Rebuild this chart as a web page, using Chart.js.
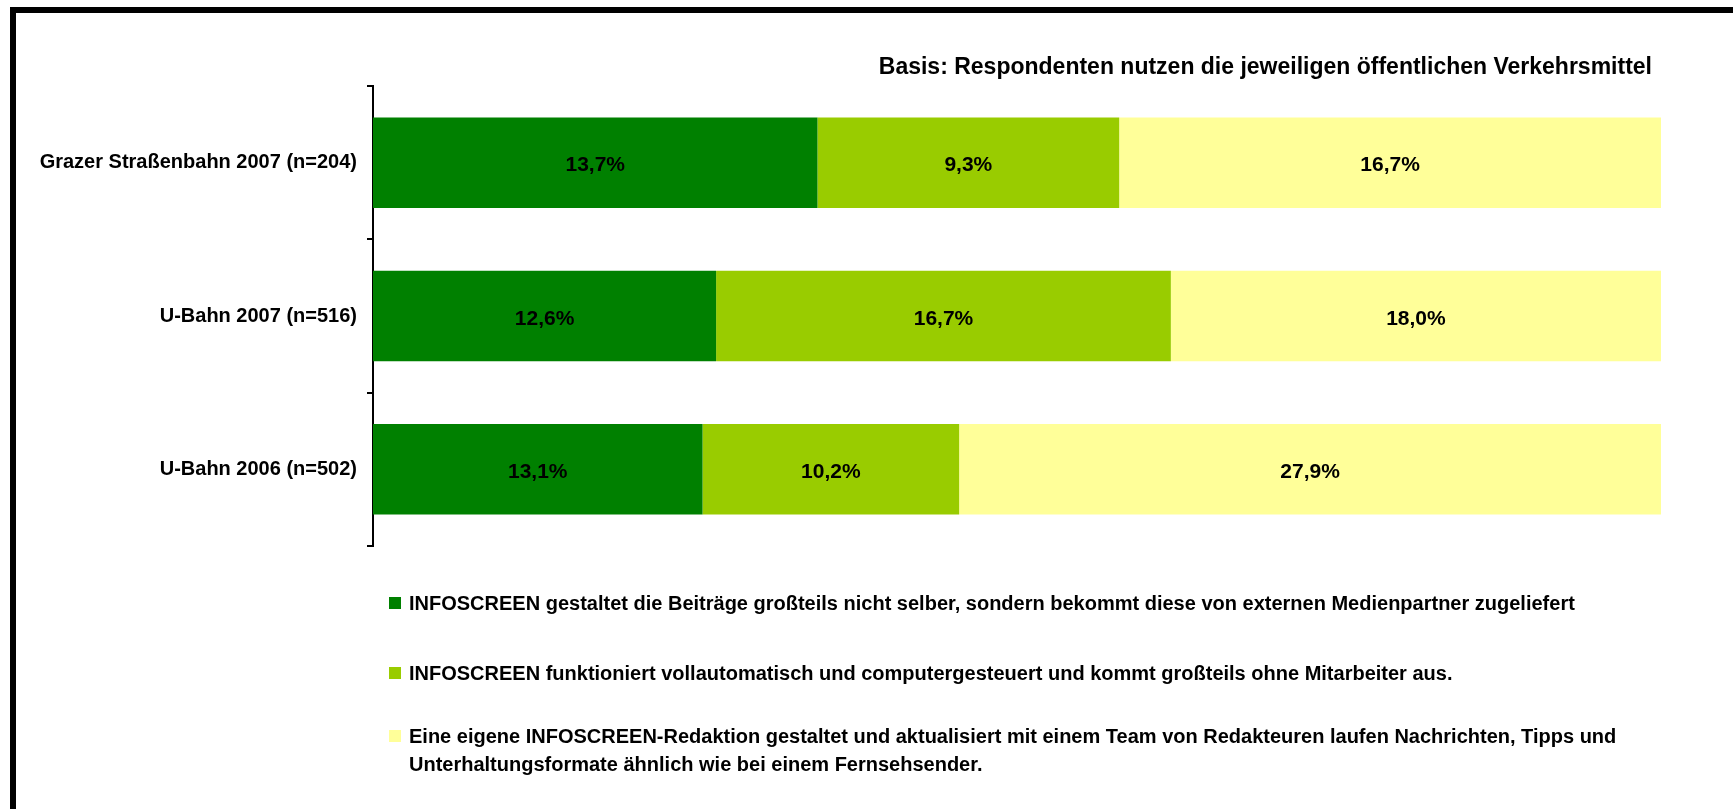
<!DOCTYPE html>
<html>
<head>
<meta charset="utf-8">
<script src="https://cdn.jsdelivr.net/npm/chart.js@4.4.1/dist/chart.umd.min.js"></script>
<style>
  html, body { margin: 0; padding: 0; background: #fff; }
  #wrap { position: relative; width: 1733px; height: 809px; overflow: hidden; background: #fff; }
  #frame { position: absolute; left: 10px; top: 7px; width: 1800px; height: 900px; border-left: 6px solid #000; border-top: 6px solid #000; }
  canvas { position: absolute; left: 0; top: 0; }
  #title { position: absolute; right: 81px; top: 53px; font-weight: bold; color: #000; white-space: nowrap; }
  .leg { position: absolute; left: 389px; font-weight: bold; color: #000; line-height: 28px; }
  .leg .sw { position: absolute; left: 0; top: 8px; width: 12px; height: 12px; }
  .leg .tx { margin-left: 20px; display: block; }
</style>
</head>
<body>
<div id="wrap">
  <canvas id="c" width="1733" height="809"></canvas>
  <div id="frame"></div>
  <div id="title"></div>
  <div id="legend"></div>
</div>
<script>
const categories = ["Grazer Straßenbahn 2007 (n=204)", "U-Bahn 2007 (n=516)", "U-Bahn 2006 (n=502)"];
const seriesNames = [
  "INFOSCREEN gestaltet die Beiträge großteils nicht selber, sondern bekommt diese von externen Medienpartner zugeliefert",
  "INFOSCREEN funktioniert vollautomatisch und computergesteuert und kommt großteils ohne Mitarbeiter aus.",
  "Eine eigene INFOSCREEN-Redaktion gestaltet und aktualisiert mit einem Team von Redakteuren laufen Nachrichten, Tipps und Unterhaltungsformate ähnlich wie bei einem Fernsehsender."
];
const externPartner = [13.7, 12.6, 13.1];
const vollautomatisch = [9.3, 16.7, 10.2];
const eigeneRedaktion = [16.7, 18.0, 27.9];
const titleText = "Basis: Respondenten nutzen die jeweiligen öffentlichen Verkehrsmittel";
const colors = ["#008000", "#99CC00", "#FFFF99"];

const FAMILY = '"Liberation Sans", Arial, sans-serif';
const fsLabel = 20;
const fsTitle = 23;
const fsLegend = 20;
const fsData = 21;

const raw = [externPartner, vollautomatisch, eigeneRedaktion];
const totals = categories.map((_, i) => raw.reduce((s, arr) => s + arr[i], 0));
const shares = raw.map(arr => arr.map((v, i) => v / totals[i] * 100));

function fmt(v) { return v.toFixed(1).replace('.', ',') + '%'; }

// title
const t = document.getElementById('title');
t.textContent = titleText;
t.style.fontFamily = FAMILY;
t.style.fontSize = fsTitle + 'px';

// legend
const legTops = [589, 659, 722];
const legend = document.getElementById('legend');
seriesNames.forEach((name, i) => {
  const d = document.createElement('div');
  d.className = 'leg';
  d.style.top = legTops[i] + 'px';
  d.style.fontFamily = FAMILY;
  d.style.fontSize = fsLegend + 'px';
  d.style.width = (i === 2 ? 1250 : 1330) + 'px';
  const sw = document.createElement('span');
  sw.className = 'sw';
  sw.style.background = colors[i];
  const tx = document.createElement('span');
  tx.className = 'tx';
  tx.textContent = name;
  d.appendChild(sw); d.appendChild(tx);
  legend.appendChild(d);
});

const dataLabels = {
  id: 'dataLabels',
  afterDatasetsDraw(chart) {
    const ctx = chart.ctx;
    ctx.save();
    ctx.font = 'bold ' + fsData + 'px ' + FAMILY;
    ctx.fillStyle = '#000';
    ctx.textAlign = 'center';
    ctx.textBaseline = 'middle';
    chart.data.datasets.forEach((ds, di) => {
      const meta = chart.getDatasetMeta(di);
      meta.data.forEach((el, i) => {
        const p = el.getProps(['x', 'y', 'base'], true);
        ctx.fillText(fmt(raw[di][i]), (p.x + p.base) / 2, p.y + 3);
      });
    });
    ctx.restore();
  }
};

new Chart(document.getElementById('c'), {
  type: 'bar',
  data: {
    labels: categories,
    datasets: seriesNames.map((n, i) => ({
      label: n,
      data: shares[i],
      backgroundColor: colors[i],
      borderWidth: 0,
      barPercentage: 0.59,
      categoryPercentage: 1.0
    }))
  },
  options: {
    indexAxis: 'y',
    responsive: false,
    animation: false,
    events: [],
    layout: { padding: { left: 0, top: 86, right: 72, bottom: 263 } },
    plugins: { legend: { display: false }, title: { display: false }, tooltip: { enabled: false } },
    scales: {
      x: { stacked: true, min: 0, max: 100, display: false },
      y: {
        stacked: true,
        afterFit(scale) { scale.width = 373; },
        border: { display: true, color: '#000', width: 2 },
        grid: { display: true, drawOnChartArea: false, drawTicks: true, tickLength: 6, color: '#000', lineWidth: 2, offset: true },
        ticks: { color: '#000', padding: 10, font: { family: FAMILY, size: fsLabel, weight: 'bold' } }
      }
    }
  },
  plugins: [dataLabels]
});
</script>
</body>
</html>
